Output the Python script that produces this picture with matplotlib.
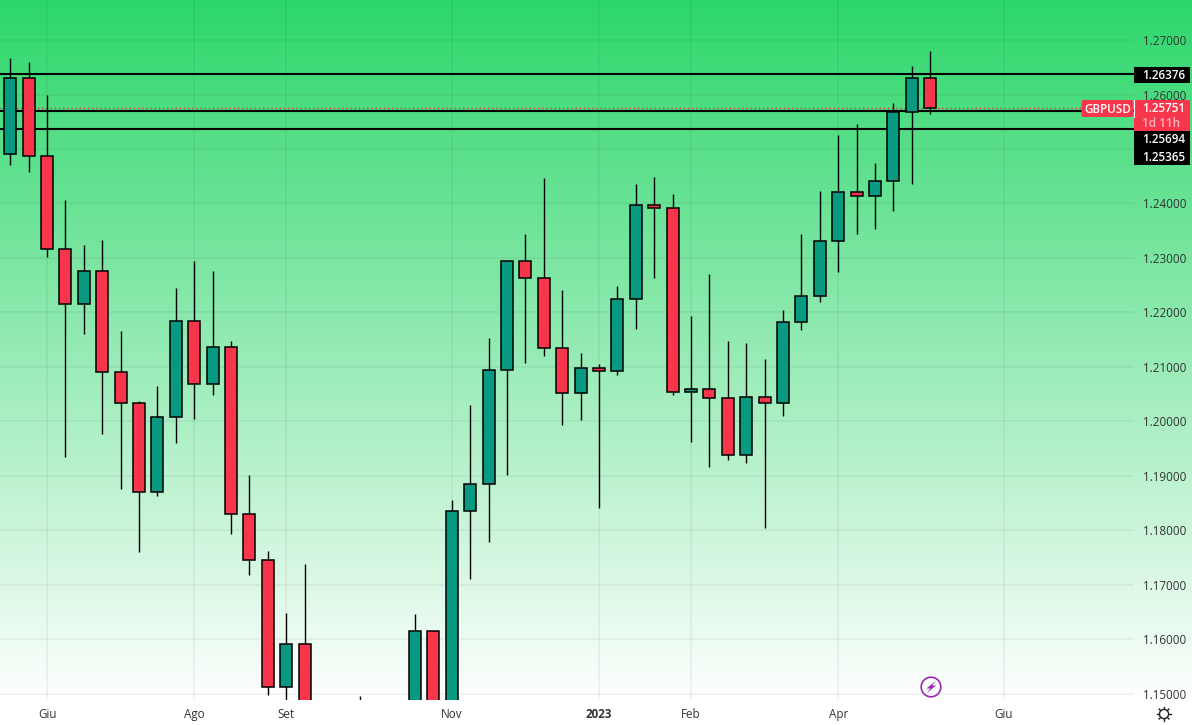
import numpy as np
import matplotlib
matplotlib.use("Agg")
import matplotlib.pyplot as plt
from matplotlib.patches import Rectangle, FancyBboxPatch, Circle, Polygon

plt.rcParams['font.family'] = ['Open Sans', 'DejaVu Sans']

# Weekly GBPUSD candles. Values below the visible price range are estimates.
opens = [1.24903,1.26297,1.24866,1.23160,1.22150,1.22756,1.20903,1.20334,1.18701,1.20077,
         1.21838,1.20682,1.21361,1.18297,1.17453,1.15123,1.15912,1.1417,1.0857,1.1166,
         1.1090,1.1170,1.1300,1.16150,1.1375,1.18352,1.18848,1.20939,1.22939,1.22627,
         1.21343,1.20517,1.20976,1.20921,1.22242,1.23967,1.23912,1.20536,1.20591,1.20426,
         1.19391,1.20444,1.20334,1.21820,1.22297,1.23306,1.24205,1.24132,1.24407,1.25673,1.26297]
highs = [1.26670,1.26596,1.25991,1.24064,1.23238,1.23330,1.21660,1.20376,1.20651,1.22449,
         1.22945,1.22761,1.21477,1.19018,1.17624,1.16486,1.17385,1.1440,1.1235,1.14963,
         1.1381,1.1438,1.16468,1.16150,1.18559,1.20303,1.21532,1.22945,1.23440,1.24468,
         1.22413,1.21257,1.21055,1.22486,1.24358,1.24486,1.24174,1.21936,1.22706,1.21477,
         1.21440,1.21147,1.22046,1.23440,1.24229,1.25257,1.25459,1.24743,1.25844,1.26523,1.26798]
lows = [1.24712,1.24583,1.23024,1.19354,1.21611,1.19776,1.18767,1.17611,1.18638,1.19611,
        1.20052,1.20486,1.17941,1.17189,1.14987,1.1471,1.1351,1.0350,1.0540,1.0999,
        1.0925,1.1059,1.1257,1.1334,1.1145,1.17115,1.17794,1.19018,1.21079,1.21207,
        1.19941,1.20033,1.18418,1.20859,1.21703,1.22638,1.20492,1.19629,1.19171,1.19299,
        1.19244,1.18051,1.20106,1.21684,1.22198,1.22749,1.23446,1.23538,1.23868,1.24363,1.25648]
closes = [1.26297,1.24866,1.23160,1.22150,1.22756,1.20903,1.20334,1.18701,1.20077,1.21838,
          1.20682,1.21361,1.18297,1.17453,1.15123,1.15912,1.1417,1.0857,1.1166,1.1090,
          1.1170,1.1300,1.16150,1.1375,1.18352,1.18848,1.20939,1.22939,1.22627,1.21343,
          1.20517,1.20976,1.20921,1.22242,1.23967,1.23912,1.20536,1.20591,1.20426,1.19391,
          1.20444,1.20334,1.21820,1.22297,1.23306,1.24205,1.24132,1.24407,1.25673,1.26297,1.25751]

levels = [1.26376, 1.25694, 1.25365]
last_price = 1.25751
price_ticks = [1.15,1.16,1.17,1.18,1.19,1.20,1.21,1.22,1.23,1.24,1.25,1.26,1.27]
time_tick_pos = [2,10,15,24,32,37,45,54]
time_tick_labels = ['Giu','Ago','Set','Nov','2023','Feb','Apr','Giu']

UP, DOWN = '#089981', '#F7364B'
W, H = 1192, 725
PLOT_R, PLOT_B = 1133.5, 700
fig = plt.figure(figsize=(W/100, H/100), dpi=100, facecolor='white')

# gradient background
bg = fig.add_axes([0, 0, 1, 1], zorder=0)
bg.set_axis_off()
grad = np.linspace(0, 1, 700)[:, None, None]
top = np.array([44, 215, 106]) / 255
img = top + (1 - top) * grad
bg.imshow(img, extent=[0, W, PLOT_B, 0], aspect='auto')
bg.set_xlim(0, W); bg.set_ylim(H, 0)

# main price chart
ax = fig.add_axes([0, (H-PLOT_B)/H, PLOT_R/W, PLOT_B/H], zorder=1)
ax.patch.set_alpha(0)
ax.set_xlim(-0.555, (PLOT_R-10.2)/18.4)
ax.set_ylim(1.27734-PLOT_B*0.00018349, 1.27734)
for s in ax.spines.values():
    s.set_visible(False)
ax.set_xticks(time_tick_pos)
ax.set_xticklabels(time_tick_labels)
ax.yaxis.tick_right()
ax.set_yticks(price_ticks)
# the 1.25000 label sits behind the price boxes in the reference
ax.set_yticklabels(['' if abs(p-1.25) < 1e-9 else f'{p:.5f}' for p in price_ticks])
ax.tick_params(axis='y', length=0, pad=7, labelsize=8.4, labelcolor='#333333')
ax.tick_params(axis='x', length=0, pad=6, labelsize=8.4, labelcolor='#333333')
ax.get_xticklabels()[4].set_fontweight('bold')
ax.grid(True, color=(0.16, 0.18, 0.22), alpha=0.07, lw=1.1)
ax.set_axisbelow(True)

for lv in levels:
    ax.axhline(lv, color='black', lw=1.5, zorder=1.5)
ax.axhline(last_price, color='#F0263C', lw=1.0, ls=(0, (1, 2)), zorder=1.6)

for i, (o, h, l, c) in enumerate(zip(opens, highs, lows, closes)):
    ax.vlines(i, l, h, color='black', lw=1.0, zorder=2)
    ax.add_patch(Rectangle((i-0.325, min(o, c)), 0.65, abs(c-o),
                           facecolor=UP if c >= o else DOWN, edgecolor='black',
                           lw=1.1, zorder=3))

# overlay: price labels and icons
ov = fig.add_axes([0, 0, 1, 1], zorder=2)
ov.set_axis_off(); ov.patch.set_alpha(0)
ov.set_xlim(0, W); ov.set_ylim(H, 0)

def box(x0, y0, x1, y1, col):
    ov.add_patch(Rectangle((x0, y0), x1-x0, y1-y0, facecolor=col, edgecolor='none'))

def lab(x, y, s, col='white', weight='semibold', ha='left', size=8.4):
    ov.text(x, y, s, color=col, fontweight=weight, ha=ha, va='center', fontsize=size)

box(1134, 67, 1190, 83, 'black')
box(1134, 131, 1190, 165, 'black')
box(1134, 100, 1190, 131, DOWN)
ov.add_patch(FancyBboxPatch((1083, 101.5), 49, 14, boxstyle='round,pad=1.5,rounding_size=2',
                            facecolor=DOWN, edgecolor='none'))
ov.plot([1133.5, 1133.5], [100, 117], color='white', lw=0.8)
lab(1142.5, 75, f'{levels[0]:.5f}')
lab(1142.5, 139.5, f'{levels[1]:.5f}')
lab(1142.5, 157, f'{levels[2]:.5f}')
lab(1142.5, 108.5, f'{last_price:.5f}')
lab(1142.5, 123, '1d 11h', col='#FFB3BD')
lab(1107.5, 109, 'GBPUSD', ha='center')

# lightning icon
ov.add_patch(Circle((931, 687), 9.8, facecolor='none', edgecolor='#9C27B0', lw=1.2))
ov.add_patch(Polygon([[936, 680.5], [926.5, 688.5], [930.5, 688.5], [926.5, 693.5],
                      [936, 685.5], [932, 685.5]], facecolor='#9C27B0', edgecolor='none'))
# settings icon
ov.add_patch(Circle((1164, 714), 4.6, facecolor='none', edgecolor='#222222', lw=1.0))
for a in np.arange(0, 2*np.pi, np.pi/4):
    ov.plot([1164+4.6*np.cos(a), 1164+7*np.cos(a)], [714+4.6*np.sin(a), 714+7*np.sin(a)],
            color='#222222', lw=1.0)

fig.savefig('out.png', dpi=100, facecolor='white')
